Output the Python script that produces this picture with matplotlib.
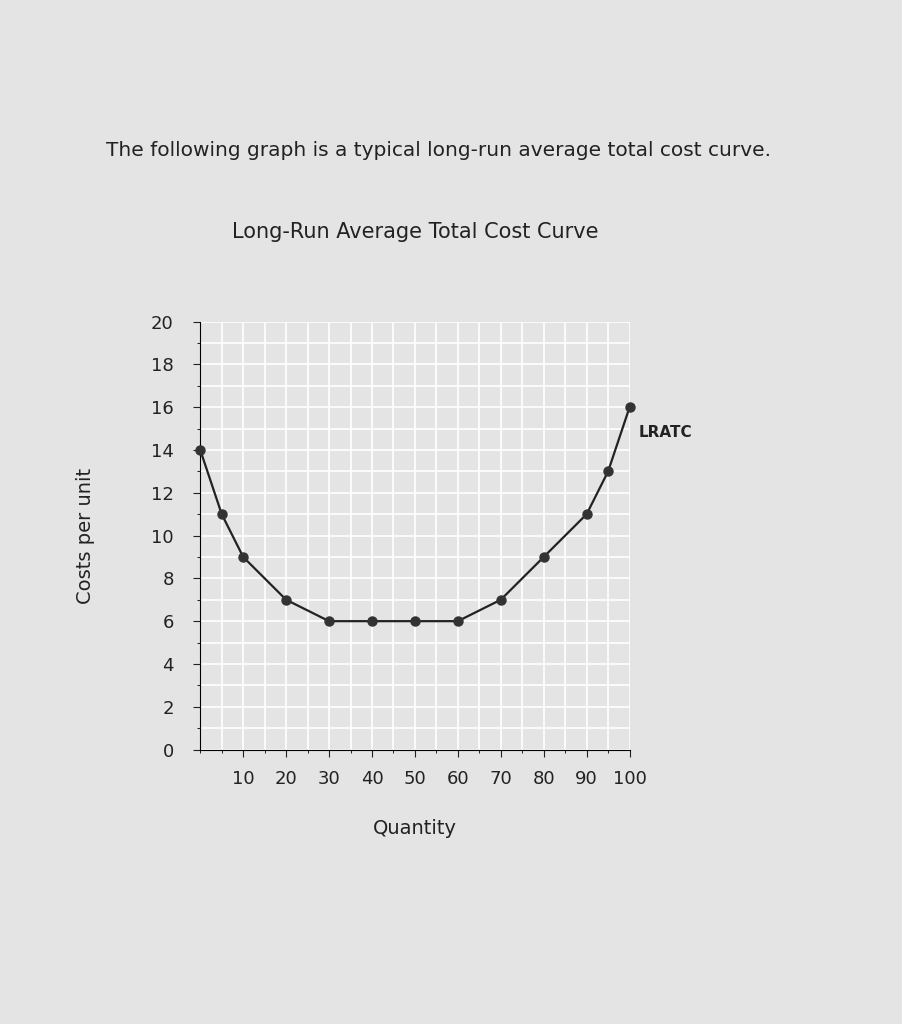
import matplotlib.pyplot as plt
import numpy as np

# LRATC data
quantity = [0, 5, 10, 20, 30, 40, 50, 60, 70, 80, 90, 95, 100]
cost = [14, 11, 9, 7, 6, 6, 6, 6, 7, 9, 11, 13, 16]
x_ticks = [10, 20, 30, 40, 50, 60, 70, 80, 90, 100]
y_ticks = [0, 2, 4, 6, 8, 10, 12, 14, 16, 18, 20]

bg = '#e4e4e4'
fig = plt.figure(figsize=(9.02, 10.24), dpi=100, facecolor=bg)
ax = fig.add_axes([0.222, 0.268, 0.476, 0.418])
ax.set_facecolor(bg)

ax.plot(quantity, cost, color='#222222', lw=1.6, marker='o', ms=6.5,
        markerfacecolor='#333333', markeredgecolor='#333333', clip_on=False, zorder=5)

ax.set_xlim(0, 100)
ax.set_ylim(0, 20)
ax.set_xticks(np.arange(0, 101, 5), minor=True)
ax.set_yticks(np.arange(0, 21, 1), minor=True)
ax.grid(True, which='both', color='white', lw=1.2)
ax.set_xticks(x_ticks)
ax.set_yticks(y_ticks)
ax.tick_params(labelsize=13, colors='#222222', length=5, pad=10)
ax.tick_params(axis='y', pad=14)
for s in ['top', 'right']:
    ax.spines[s].set_visible(False)
ax.set_axisbelow(True)

ax.text(102, 14.6, 'LRATC', fontsize=11, fontweight='bold', color='#222222')
ax.set_xlabel('Quantity', fontsize=14, labelpad=22, color='#222222')
ax.set_ylabel('Costs per unit', fontsize=14, labelpad=40, color='#222222')

fig.text(0.118, 0.848, 'The following graph is a typical long-run average total cost curve.',
         fontsize=14.5, color='#222222')
fig.text(0.46, 0.768, 'Long-Run Average Total Cost Curve', fontsize=15,
         ha='center', color='#222222', fontweight='medium')

fig.savefig('out.png', dpi=100, facecolor=bg)
